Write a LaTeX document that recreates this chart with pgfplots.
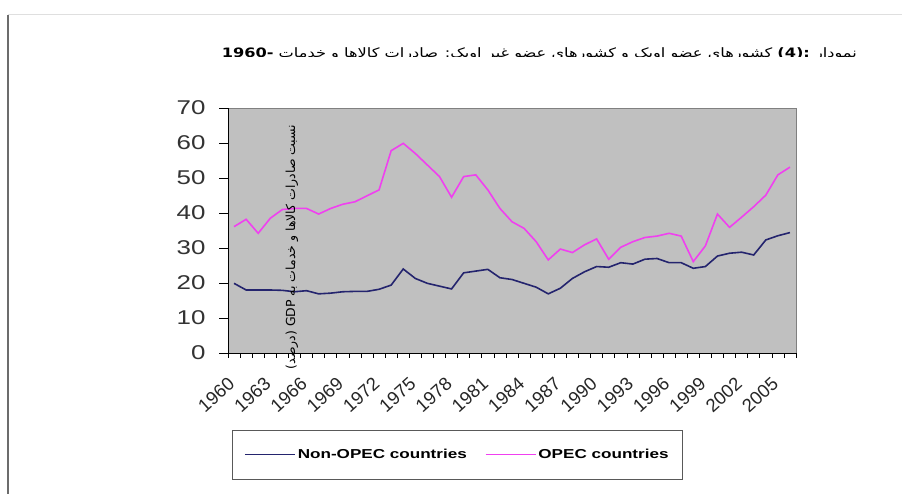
\documentclass[border=0pt]{standalone}
\usepackage{graphicx}
\usepackage{fontspec}
\usepackage{pgfplots}
\usepackage{pgfplotstable}
\pgfplotsset{compat=1.18}
\setmainfont{Liberation Sans}
\newfontfamily\arabicfont[Script=Arabic]{DejaVu Sans}
\TeXXeTstate=1
\definecolor{plotbg}{HTML}{C0C0C0}
\definecolor{nonopec}{HTML}{24246E}
\definecolor{opec}{HTML}{F040F0}
\pgfplotstableread{
year nonopec opec
1960 19.9 36.1
1961 18.0 38.2
1962 18.0 34.2
1963 18.0 38.5
1964 17.9 41.0
1965 17.5 41.3
1966 17.8 41.3
1967 16.9 39.7
1968 17.1 41.3
1969 17.5 42.5
1970 17.6 43.2
1971 17.6 44.9
1972 18.2 46.6
1973 19.4 57.8
1974 24.0 59.9
1975 21.3 57.0
1976 19.9 53.7
1977 19.1 50.4
1978 18.3 44.5
1979 22.9 50.4
1980 23.4 50.9
1981 23.9 46.6
1982 21.5 41.3
1983 21.0 37.5
1984 19.9 35.6
1985 18.8 31.8
1986 16.9 26.6
1987 18.5 29.7
1988 21.3 28.7
1989 23.2 30.9
1990 24.7 32.6
1991 24.5 26.8
1992 25.8 30.2
1993 25.4 31.8
1994 26.8 33.0
1995 27.0 33.4
1996 25.8 34.2
1997 25.8 33.4
1998 24.2 26.1
1999 24.7 30.6
2000 27.7 39.7
2001 28.5 35.9
2002 28.8 38.8
2003 28.0 41.8
2004 32.3 45.1
2005 33.5 50.9
2006 34.4 53.1
}\data
\begin{document}
\begin{tikzpicture}[x=1bp,y=1bp]
\path[use as bounding box] (0,0) rectangle (902,494);
\fill[white] (0,0) rectangle (902,494);
\draw[gray!85!black, line width=2bp] (8,0) -- (8,479);
\draw[gray!25, line width=1bp] (8,479) -- (902,479);
\begin{scope}
\clip (100,437.5) rectangle (902,460);
\node[anchor=base east, inner sep=0pt, font=\arabicfont\fontsize{13}{15}\selectfont] at (857,436)
 {\scalebox{1.25}[1]{\beginR نمودار \beginL\textbf{:(4)}\endL{} کشورهای عضو اوپک و کشورهای عضو غیر اوپک: صادرات کالاها و خدمات \beginL\textbf{-1960}\endL\endR}};
\end{scope}
\begin{axis}[
  at={(228bp,141bp)}, anchor=south west,
  scale only axis, width=568bp, height=245bp,
  xmin=1959.5, xmax=2006.5, ymin=0, ymax=70,
  axis background/.style={fill=plotbg, draw=gray},
  axis x line*=bottom, axis y line*=left,
  axis line style={-, black, line width=0.8bp},
  xtick={1960,1963,...,2005},
  minor xtick={1959.5,1960.5,...,2006.5},
  major x tick style={draw=none},
  minor x tick style={black, line width=0.6bp},
  minor tick length=5bp,
  ytick={0,10,...,70},
  major y tick style={black, line width=0.6bp},
  major tick length=9bp,
  tick align=outside,
  /pgf/number format/assume math mode=true,
  /pgf/number format/1000 sep={},
  yticklabel style={font=\fontsize{20}{22}\selectfont, text=black!80, xshift=-10bp},
  yticklabel={\scalebox{1.3}[1]{\pgfmathprintnumber{\tick}}},
  xticklabel style={font=\fontsize{18.5}{21}\selectfont, inner sep=0pt, text=black!85,
    xshift=-7bp, yshift=-14bp, rotate=42, anchor=north east},
  xticklabel={\pgfmathprintnumber[1000 sep={}]{\tick}},
  legend style={at={(0.007,-0.314)}, anchor=north west, draw=gray!70!black, fill=white,
    legend columns=2, font=\bfseries\fontsize{13}{15}\selectfont,
    inner xsep=12bp, inner ysep=17bp,
    /tikz/every even column/.append style={column sep=16bp}},
  legend image code/.code={\draw[#1] (0bp,0bp) -- (50bp,0bp);},
  legend cell align=left,
]
\addplot[nonopec, line width=1.6bp] table[x=year, y=nonopec] {\data};
\addlegendentry{\scalebox{1.32}[1]{Non-OPEC countries}}
\addplot[opec, line width=1.6bp] table[x=year, y=opec] {\data};
\addlegendentry{\scalebox{1.32}[1]{OPEC countries}}
\end{axis}
\node[rotate=90, inner sep=0pt, font=\arabicfont\fontsize{12.5}{14}\selectfont] at (292,247)
 {\beginR نسبت صادرات کالاها و خدمات به \beginL GDP\endL{} (درصد)\endR};
\end{tikzpicture}
\end{document}
